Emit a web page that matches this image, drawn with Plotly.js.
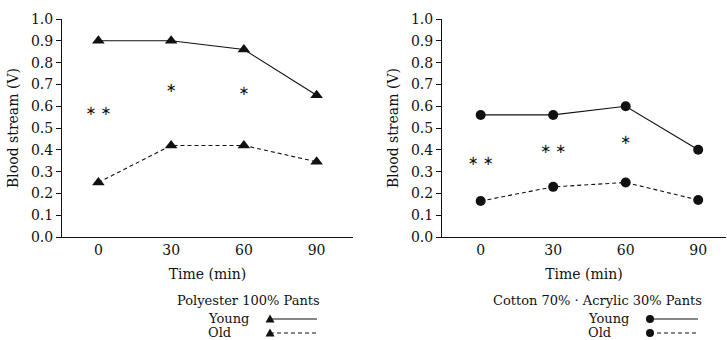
<!DOCTYPE html>
<html>
<head>
<meta charset="utf-8">
<script src="https://cdn.plot.ly/plotly-3.0.1.min.js"></script>
<style>
  html, body { margin: 0; padding: 0; background: #fff; }
  #chart { width: 727px; height: 340px; }
</style>
</head>
<body>
<div id="chart"></div>
<script>
// Time points (minutes)
const timeMin = [0, 30, 60, 90];

// Polyester 100% pants
const polyYoung = [0.90, 0.90, 0.86, 0.65];
const polyOld = [0.25, 0.42, 0.42, 0.345];
const polySigX = [0, 30, 60];
const polySigY = [0.575, 0.68, 0.665];
const polySigText = ['∗ ∗', '∗', '∗'];

// Cotton 70% · Acrylic 30% pants
const cottonYoung = [0.56, 0.56, 0.60, 0.40];
const cottonOld = [0.165, 0.23, 0.25, 0.17];
const cottonSigX = [0, 30, 60];
const cottonSigY = [0.345, 0.40, 0.44];
const cottonSigText = ['∗ ∗', '∗ ∗', '∗'];

const yTickVals = [0, 0.1, 0.2, 0.3, 0.4, 0.5, 0.6, 0.7, 0.8, 0.9, 1.0];
const yTickText = ['0.0', '0.1', '0.2', '0.3', '0.4', '0.5', '0.6', '0.7', '0.8', '0.9', '1.0'];

const panelTitles = ['Polyester 100% Pants', 'Cotton 70% · Acrylic 30% Pants'];
const seriesNames = ['Young', 'Old'];

const FONT = 'DejaVu Serif, Liberation Serif, serif';
const INK = '#111';

function lineTrace(y, xa, ya, symbol, size, dash) {
  return {
    x: timeMin, y: y, xaxis: xa, yaxis: ya,
    mode: 'lines+markers', type: 'scatter',
    line: { color: INK, width: 1.1, dash: dash },
    marker: { symbol: symbol, size: size, color: INK },
    hoverinfo: 'skip', showlegend: false
  };
}
function sigTrace(x, y, t, xa, ya) {
  return {
    x: x, y: y, text: t, xaxis: xa, yaxis: ya,
    mode: 'text', type: 'scatter', textposition: 'middle center',
    textfont: { family: 'DejaVu Sans, sans-serif', size: 13, color: INK },
    hoverinfo: 'skip', showlegend: false
  };
}

const data = [
  lineTrace(polyYoung, 'x', 'y', 'triangle-up', 11, 'solid'),
  lineTrace(polyOld, 'x', 'y', 'triangle-up', 11, '4px,3px'),
  sigTrace(polySigX, polySigY, polySigText, 'x', 'y'),
  lineTrace(cottonYoung, 'x2', 'y2', 'circle', 10, 'solid'),
  lineTrace(cottonOld, 'x2', 'y2', 'circle', 10, '4px,3px'),
  sigTrace(cottonSigX, cottonSigY, cottonSigText, 'x2', 'y2')
];

const W = 727, H = 340;
const yDomain = [1 - 237 / H, 1 - 19 / H];

function xAxis(domain, range, anchor) {
  return {
    domain: domain, range: range, anchor: anchor,
    tickvals: timeMin, ticktext: timeMin.map(String),
    ticks: '', showgrid: false, zeroline: false,
    showline: true, linecolor: INK, linewidth: 1,
    tickfont: { family: FONT, size: 14, color: INK },
    title: { text: 'Time (min)', font: { family: FONT, size: 14, color: INK }, standoff: 12 }
  };
}
function yAxis(anchor) {
  return {
    domain: yDomain, range: [0, 1.0], anchor: anchor,
    tickvals: yTickVals, ticktext: yTickText,
    ticks: 'outside', ticklen: 5, tickcolor: INK, tickwidth: 1,
    showgrid: false, zeroline: false,
    showline: true, linecolor: INK, linewidth: 1,
    tickfont: { family: FONT, size: 14, color: INK },
    title: { text: 'Blood stream (V)', font: { family: FONT, size: 14, color: INK }, standoff: 9 }
  };
}

// Legend block under each panel: title, labels, and key samples
const legendSpecs = [
  { titleX: 248, labelX: 207, keyX0: 270, keyX1: 317, symbol: 'triangle', title: panelTitles[0] },
  { titleX: 597, labelX: 587, keyX0: 650, keyX1: 698, symbol: 'circle', title: panelTitles[1] }
];
const rowY = [318, 332];
const annotations = [];
const shapes = [];
const px = v => v / W;
const py = v => 1 - v / H;

legendSpecs.forEach(spec => {
  annotations.push({
    xref: 'paper', yref: 'paper', x: px(spec.titleX), y: py(300),
    text: spec.title, showarrow: false, xanchor: 'center', yanchor: 'middle',
    font: { family: FONT, size: 13, color: INK }
  });
  seriesNames.forEach((name, i) => {
    annotations.push({
      xref: 'paper', yref: 'paper', x: px(spec.labelX), y: py(rowY[i]),
      text: name, showarrow: false, xanchor: 'left', yanchor: 'middle',
      borderpad: 0,
      font: { family: FONT, size: 13, color: INK }
    });
    const ky = rowY[i] + 1;
    shapes.push({
      type: 'line', xref: 'paper', yref: 'paper',
      x0: px(spec.keyX0), x1: px(spec.keyX1), y0: py(ky), y1: py(ky),
      line: { color: INK, width: 1, dash: i === 0 ? 'solid' : '4px,3px' }
    });
    const cx = spec.keyX0;
    if (spec.symbol === 'triangle') {
      shapes.push({
        type: 'path', xref: 'paper', yref: 'paper',
        path: `M ${px(cx - 4.5)} ${py(ky + 3.5)} L ${px(cx + 4.5)} ${py(ky + 3.5)} L ${px(cx)} ${py(ky - 4.5)} Z`,
        fillcolor: INK, line: { color: INK, width: 0 }
      });
    } else {
      shapes.push({
        type: 'circle', xref: 'paper', yref: 'paper',
        x0: px(cx - 4), x1: px(cx + 4), y0: py(ky + 4), y1: py(ky - 4),
        fillcolor: INK, line: { color: INK, width: 0 }
      });
    }
  });
});

const layout = {
  width: W, height: H,
  margin: { l: 0, r: 0, t: 0, b: 0 },
  paper_bgcolor: '#fff', plot_bgcolor: '#fff',
  showlegend: false,
  xaxis: xAxis([62 / W, 353 / W], [-15, 105], 'y'),
  yaxis: yAxis('x'),
  xaxis2: xAxis([442 / W, 726 / W], [-16, 101.5], 'y2'),
  yaxis2: yAxis('x2'),
  annotations: annotations,
  shapes: shapes
};

Plotly.newPlot('chart', data, layout, { staticPlot: true, displayModeBar: false });
</script>
</body>
</html>
